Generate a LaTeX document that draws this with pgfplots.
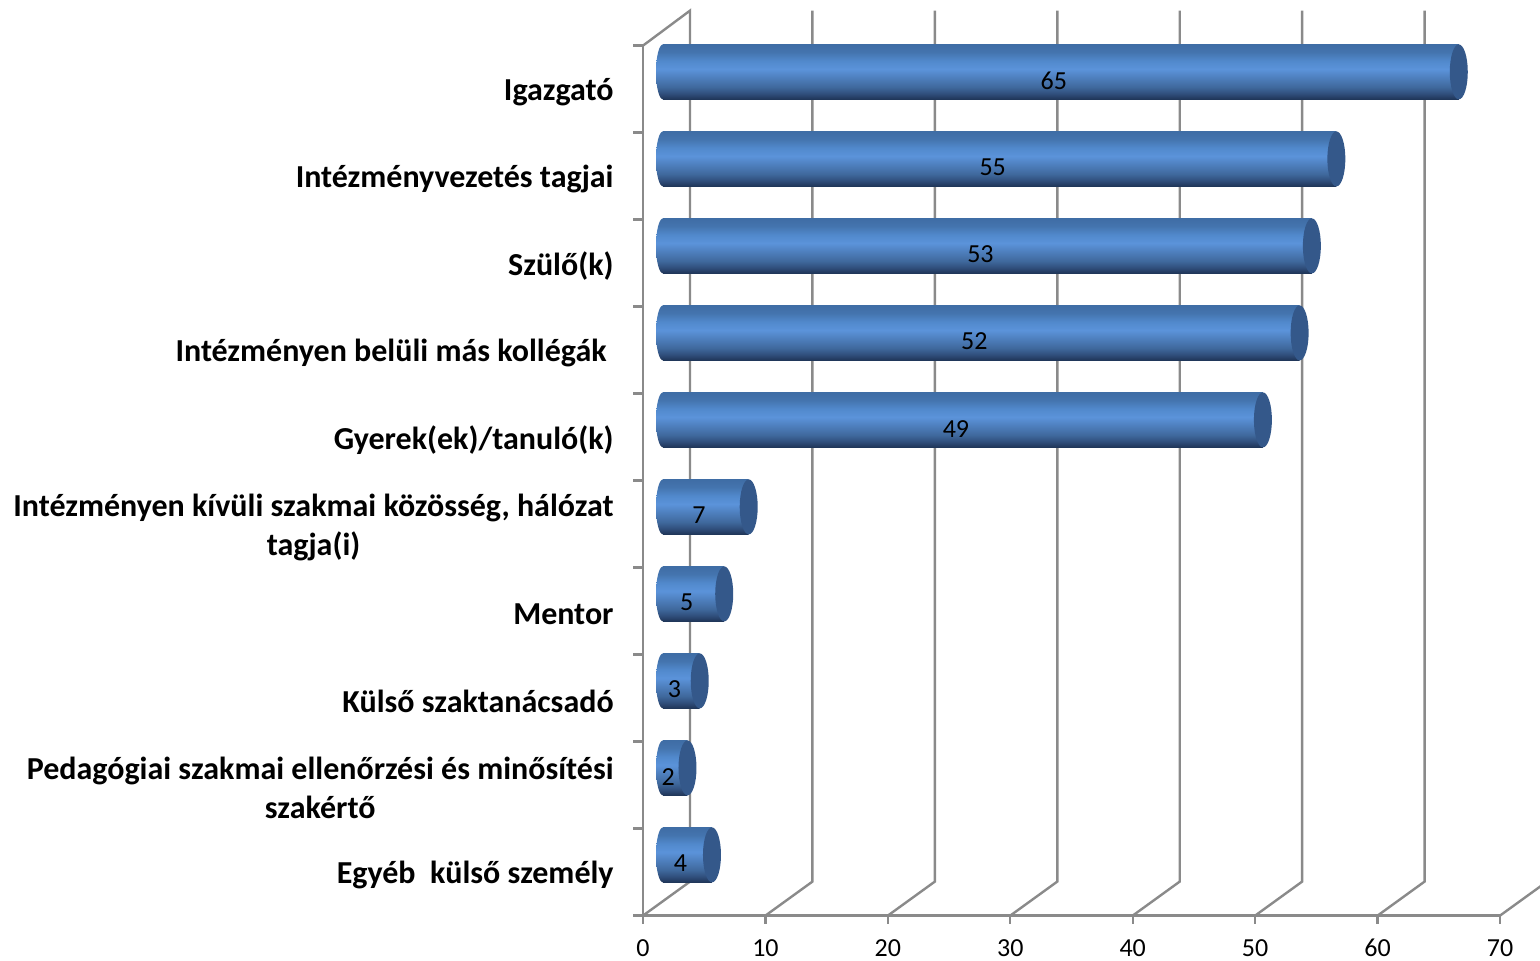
\documentclass[border=0pt]{standalone}
\usepackage{fontspec}
\setmainfont{Carlito}
\usepackage{pgfplots}
\pgfplotsset{compat=1.18}
\definecolor{gridgray}{HTML}{8A8A8A}
\definecolor{capblue}{HTML}{34588A}
\definecolor{sa}{HTML}{1F3557}
\definecolor{sb}{HTML}{2F4D7A}
\definecolor{sc}{HTML}{3F689C}
\definecolor{sd}{HTML}{5B93DA}
\definecolor{se}{HTML}{5189CC}
\definecolor{sf}{HTML}{4474AE}
\definecolor{sg}{HTML}{3F6DA5}
\pgfdeclareverticalshading{cyl}{100bp}{
 color(0bp)=(sa);
 color(25bp)=(sa);
 color(30bp)=(sb);
 color(36bp)=(sc);
 color(52.5bp)=(sd);
 color(60bp)=(se);
 color(68bp)=(sf);
 color(75bp)=(sg);
 color(100bp)=(sg)}
\pgfdeclareplotmark{leftcap}{%
 \pgfpathellipse{\pgfpointorigin}{\pgfqpoint{3.5pt}{0pt}}{\pgfqpoint{0pt}{13.75pt}}%
 \pgfshadepath{cyl}{0}\pgfusepath{discard}}
\pgfdeclareplotmark{rightcap}{%
 \pgfpathellipse{\pgfpointorigin}{\pgfqpoint{4.5pt}{0pt}}{\pgfqpoint{0pt}{13.75pt}}%
 \pgfsetfillcolor{capblue}\pgfusepath{fill}}
\pgfplotsset{cylbody/.style={xbar, bar width=27.5pt, draw=none, shading=cyl, xshift=10pt, yshift=8.6pt}}
\begin{document}
\begin{tikzpicture}
\useasboundingbox (0,0) rectangle (770pt,480.5pt);
\begin{axis}[
 at={(321.5pt,22.7pt)}, anchor=south west,
 scale only axis, width=428.5pt, height=435pt,
 xmin=0, xmax=70, ymin=-0.5, ymax=9.5, y dir=reverse,
 clip=false,
 axis x line*=bottom, axis y line*=left,
 axis line style={draw=gridgray, line width=1.2pt, -},
 xtick={0,10,...,70},
 ytick={0,...,9},
 minor ytick={-0.5,0.5,...,9.5},
 tick align=outside,
 major tick length=4pt,
 minor tick length=5pt,
 x tick style={draw=gridgray, line width=1.2pt},
 y tick style={draw=none},
 minor y tick style={draw=gridgray, line width=1.2pt},
 /pgf/number format/assume math mode=true,
 x tick label style={font=\fontsize{13pt}{14pt}\selectfont, inner sep=0pt, text height=8.5pt, text depth=0pt, yshift=-7.5pt},
 y tick label style={font=\bfseries\fontsize{16pt}{19.5pt}\selectfont, inner sep=0pt, xshift=-10.5pt, yshift=-1.5pt, align=center},
 yticklabels={Igazgató, Intézményvezetés tagjai, Szülő(k), Intézményen belüli más kollégák\hspace*{3.5pt}, Gyerek(ek)/tanuló(k), {Intézményen kívüli szakmai közösség, hálózat\\tagja(i)}, Mentor, Külső szaktanácsadó, {Pedagógiai szakmai ellenőrzési és minősítési\\szakértő}, Egyéb\ \ külső személy},
]
% wall and floor lines
\pgfplotsset{every axis plot/.append style={line width=1.2pt}}
\addplot[gridgray, no marks] coordinates {(0,9.5)(3.84,9.109)(3.84,-0.902)(0,-0.5)};
\addplot[gridgray, no marks] coordinates {(10,9.5)(13.84,9.109)(13.84,-0.902)};
\addplot[gridgray, no marks] coordinates {(20,9.5)(23.84,9.109)(23.84,-0.902)};
\addplot[gridgray, no marks] coordinates {(30,9.5)(33.84,9.109)(33.84,-0.902)};
\addplot[gridgray, no marks] coordinates {(40,9.5)(43.84,9.109)(43.84,-0.902)};
\addplot[gridgray, no marks] coordinates {(50,9.5)(53.84,9.109)(53.84,-0.902)};
\addplot[gridgray, no marks] coordinates {(60,9.5)(63.84,9.109)(63.84,-0.902)};
\addplot[gridgray, no marks] coordinates {(70,9.5)(73.84,9.109)};
% left cap of the cylinders
\addplot[only marks, mark=leftcap, xshift=10pt, yshift=8.6pt] coordinates {
 (0,0)(0,1)(0,2)(0,3)(0,4)(0,5)(0,6)(0,7)(0,8)(0,9)};
% body: one plot per bar, so that each bar has the whole shading
\addplot[cylbody] coordinates {(65,0)};
\addplot[cylbody] coordinates {(55,1)};
\addplot[cylbody] coordinates {(53,2)};
\addplot[cylbody] coordinates {(52,3)};
\addplot[cylbody] coordinates {(49,4)};
\addplot[cylbody] coordinates {(7,5)};
\addplot[cylbody] coordinates {(5,6)};
\addplot[cylbody] coordinates {(3,7)};
\addplot[cylbody] coordinates {(2,8)};
\addplot[cylbody] coordinates {(4,9)};
% right cap
\addplot[only marks, mark=rightcap, xshift=10pt, yshift=8.6pt] coordinates {
 (65,0)(55,1)(53,2)(52,3)(49,4)(7,5)(5,6)(3,7)(2,8)(4,9)};
% value labels
\addplot[draw=none, no marks, xshift=6.5pt, yshift=4.25pt, point meta=explicit symbolic,
 nodes near coords, nodes near coords style={anchor=center, inner sep=0pt, text=black, font=\fontsize{13pt}{14pt}\selectfont}] coordinates {
 (32.5,0)[65](27.5,1)[55](26.5,2)[53](26,3)[52](24.5,4)[49](3.5,5)[7](2.5,6)[5](1.5,7)[3](1,8)[2](2,9)[4]};
\end{axis}
\end{tikzpicture}
\end{document}
